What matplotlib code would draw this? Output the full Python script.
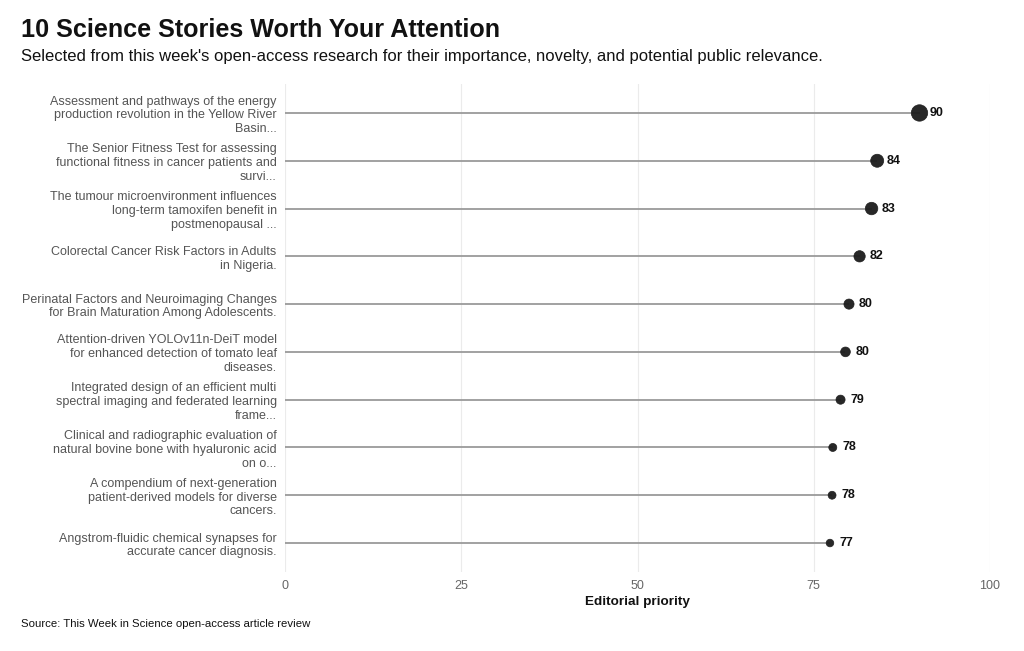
import matplotlib
matplotlib.use('Agg')
import matplotlib.pyplot as plt

# Stories, top to bottom
titles = [
    "Assessment and pathways of the energy\nproduction revolution in the Yellow River\nBasin...",
    "The Senior Fitness Test for assessing\nfunctional fitness in cancer patients and\nsurvi...",
    "The tumour microenvironment influences\nlong-term tamoxifen benefit in\npostmenopausal ...",
    "Colorectal Cancer Risk Factors in Adults\nin Nigeria.",
    "Perinatal Factors and Neuroimaging Changes\nfor Brain Maturation Among Adolescents.",
    "Attention-driven YOLOv11n-DeiT model\nfor enhanced detection of tomato leaf\ndiseases.",
    "Integrated design of an efficient multi\nspectral imaging and federated learning\nframe...",
    "Clinical and radiographic evaluation of\nnatural bovine bone with hyaluronic acid\non o...",
    "A compendium of next-generation\npatient-derived models for diverse\ncancers.",
    "Angstrom-fluidic chemical synapses for\naccurate cancer diagnosis.",
]
scores = [90.0, 84.0, 83.2, 81.5, 80.0, 79.5, 78.8, 77.7, 77.6, 77.3]
x_ticks = [0, 25, 50, 75, 100]

plt.rcParams['font.family'] = ['Liberation Sans', 'DejaVu Sans']

fig = plt.figure(figsize=(10.24, 6.51), dpi=100)
ax = fig.add_axes([285 / 1024, 1 - 571.7 / 651, 705 / 1024, (571.7 - 84.3) / 651])

n = len(scores)
ypos = list(range(n, 0, -1))

# dot area scales with score
smin, smax = min(scores), max(scores)
sizes = [30 + (s - smin) / (smax - smin) * 110 for s in scores]

ax.hlines(ypos, 0, scores, color='#9a9a9a', linewidth=1.3, zorder=2)
ax.scatter(scores, ypos, s=sizes, color='#1c1c1c', alpha=0.95, zorder=3,
           edgecolors='#1c1c1c', linewidths=0.5)
for s, y in zip(scores, ypos):
    ax.annotate(f"{s:.0f}", (s, y), xytext=(7, 0), textcoords='offset points',
                ha='left', va='center', fontsize=9, fontweight='bold', color='#111111')

ax.set_xlim(0, 100)
ax.set_ylim(0.4, n + 0.6)
ax.set_xticks(x_ticks)
ax.set_xticklabels([str(t) for t in x_ticks], fontsize=9, color='#666666')
ax.set_yticks(ypos)
ax.set_yticklabels(titles, fontsize=9, color='#555555', linespacing=1.2)
ax.tick_params(axis='both', length=0)
ax.tick_params(axis='y', pad=6)
ax.tick_params(axis='x', pad=6)
ax.grid(axis='x', color='#ebebeb', linewidth=0.8, zorder=0)
ax.set_axisbelow(True)
for sp in ax.spines.values():
    sp.set_visible(False)
ax.set_xlabel('Editorial priority', fontsize=9.7, fontweight='bold', color='#111111', labelpad=2.5)

fig.text(21 / 1024, 1 - 30 / 651, '10 Science Stories Worth Your Attention',
         fontsize=18.1, fontweight='bold', ha='left', va='center', color='#111111')
fig.text(21 / 1024, 1 - 56 / 651,
         "Selected from this week's open-access research for their importance, novelty, and potential public relevance.",
         fontsize=12, ha='left', va='center', color='#111111')
fig.text(21 / 1024, 1 - 624 / 651, 'Source: This Week in Science open-access article review',
         fontsize=8.2, ha='left', va='center', color='#111111')

fig.savefig('out.png', dpi=100)
